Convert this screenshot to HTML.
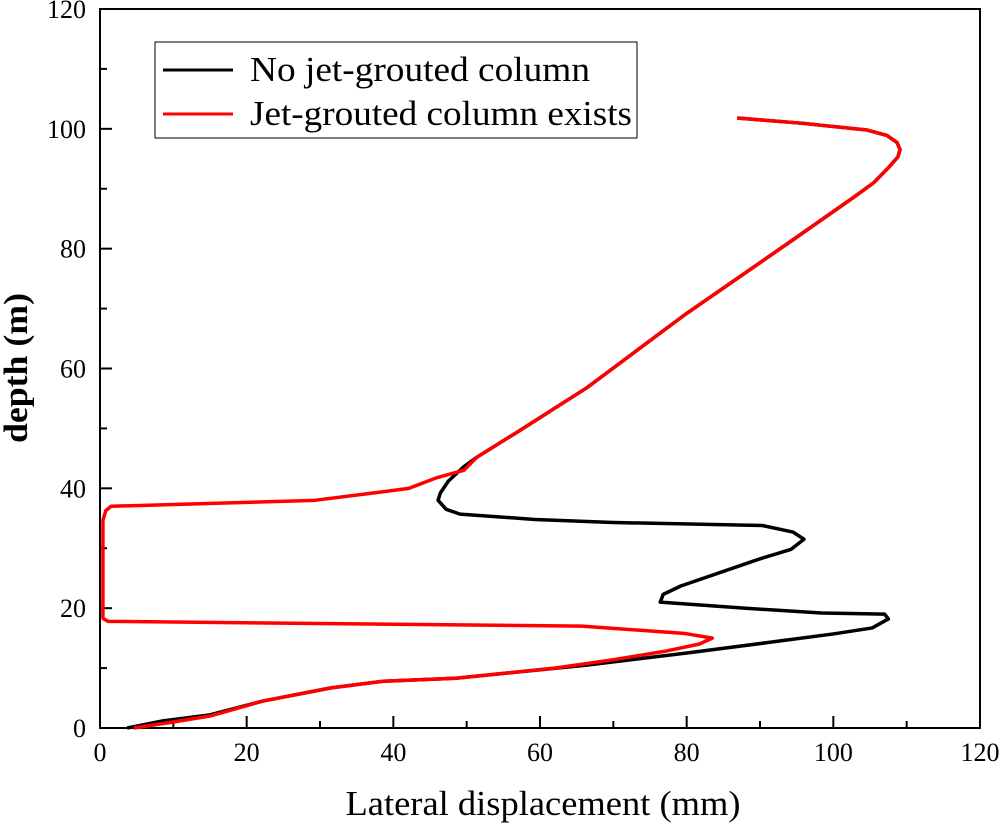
<!DOCTYPE html>
<html><head><meta charset="utf-8"><style>
body{margin:0;background:#fff}
svg text{font-family:"Liberation Serif",serif;fill:#000}
</style></head><body>
<svg id="chart" width="1004" height="828" viewBox="0 0 1004 828" xmlns="http://www.w3.org/2000/svg">
<g id="axes"></g>
<g id="series"></g>
<g>
<rect x="155" y="42" width="482" height="96" fill="#fff" stroke="#000" stroke-width="1"/>
<line x1="163" y1="70" x2="233" y2="70" stroke="#000" stroke-width="3"/>
<text x="250" y="81" font-size="35" textLength="340" lengthAdjust="spacingAndGlyphs">No jet-grouted column</text>
<line x1="163" y1="114" x2="233" y2="114" stroke="#f00" stroke-width="3"/>
<text x="250" y="125" font-size="35" textLength="382" lengthAdjust="spacingAndGlyphs">Jet-grouted column exists</text>
</g>
<text x="543" y="815" font-size="35" text-anchor="middle" textLength="395" lengthAdjust="spacingAndGlyphs">Lateral displacement (mm)</text>
<text transform="translate(27,368) rotate(-90)" font-size="34" font-weight="bold" text-anchor="middle" textLength="150" lengthAdjust="spacingAndGlyphs">depth (m)</text>
</svg>
<script>
const xTicks=[0,20,40,60,80,100,120];
const yTicks=[0,20,40,60,80,100,120];
const noColX=[3.7,8.6,15,22.2,31.5,38.6,48.5,66.4,79.9,90.7,100,105.3,107.5,107,98.4,87.8,76.4,76.8,79.2,89.9,94.2,96,94.5,90.3,70,59.3,49.1,47.2,46.1,46.4,47.5,49.6,51.4,57.3,66.4,80,93.7,102.7,105.5,107.5,108.8,109.1,108.7,107.3,104.6,96,86.9];
const noColY=[0,1.2,2.2,4.5,6.7,7.8,8.3,10.5,12.5,14.2,15.7,16.7,18.2,19,19.2,20,21,22.3,23.7,28.2,29.8,31.5,32.7,33.8,34.3,34.8,35.7,36.5,38,39.2,41.2,43.6,45.2,49.7,56.8,69.2,80.8,88.5,91,93.5,95.3,96.5,97.7,98.9,99.8,100.9,101.8];
const colX=[4.6,10,15,22.2,31.5,38.6,48.5,62,70,77,81.7,83.5,79.6,65.7,1.1,0.4,0.4,0.8,1.5,29.3,37.1,42.1,46,49.6,51.4,57.3,66.4,80,93.7,102.7,105.5,107.5,108.8,109.1,108.7,107.3,104.6,96,86.9];
const colY=[0,1,2,4.5,6.7,7.8,8.3,10,11.4,12.8,14,15,15.8,17,17.8,18.3,34.7,36.3,37,38,39.2,40,41.8,43,45.2,49.7,56.8,69.2,80.8,88.5,91,93.5,95.3,96.5,97.7,98.9,99.8,100.9,101.8];
const X0=100,X1=980,Y0=728,Y1=9;
const sx=v=>X0+(v-0)/(120)*(X1-X0);
const sy=v=>Y0-(v-0)/(120)*(Y0-Y1);
const NS="http://www.w3.org/2000/svg";
const axes=document.getElementById('axes');
function mk(tag,attrs,parent){const e=document.createElementNS(NS,tag);for(const k in attrs)e.setAttribute(k,attrs[k]);parent.appendChild(e);return e;}
const frame=mk('rect',{x:X0,y:Y1,width:X1-X0,height:Y0-Y1,fill:'none',stroke:'#000','stroke-width':2},axes);


for(let v=0;v<=120;v+=10){
 const major=v%20===0;
 const t=mk('line',{x1:sx(v),x2:sx(v),y1:Y0,y2:Y0-(major?12:7),stroke:'#000','stroke-width':2},axes);
 
 
 const u=mk('line',{x1:X0,x2:X0+(major?12:7),y1:sy(v),y2:sy(v),stroke:'#000','stroke-width':2},axes);
 
 
}
xTicks.forEach(v=>{const t=mk('text',{x:sx(v),y:Y0+33,'font-size':26,'text-anchor':'middle'},axes);t.textContent=v;
 
 });
yTicks.forEach(v=>{const t=mk('text',{x:X0-14,y:sy(v)+9,'font-size':26,'text-anchor':'end'},axes);t.textContent=v;
 
 });
const series=document.getElementById('series');
function line(xs,ys,color,name){
 const p=mk('polyline',{points:xs.map((x,i)=>sx(x)+','+sy(ys[i])).join(' '),fill:'none',stroke:color,'stroke-width':3.5,'stroke-linejoin':'round'},series);
 
 
}
line(noColX,noColY,'#000','line-no-jet-grouted-column');
line(colX,colY,'#f00','line-jet-grouted-column-exists');
</script>
</body></html>
